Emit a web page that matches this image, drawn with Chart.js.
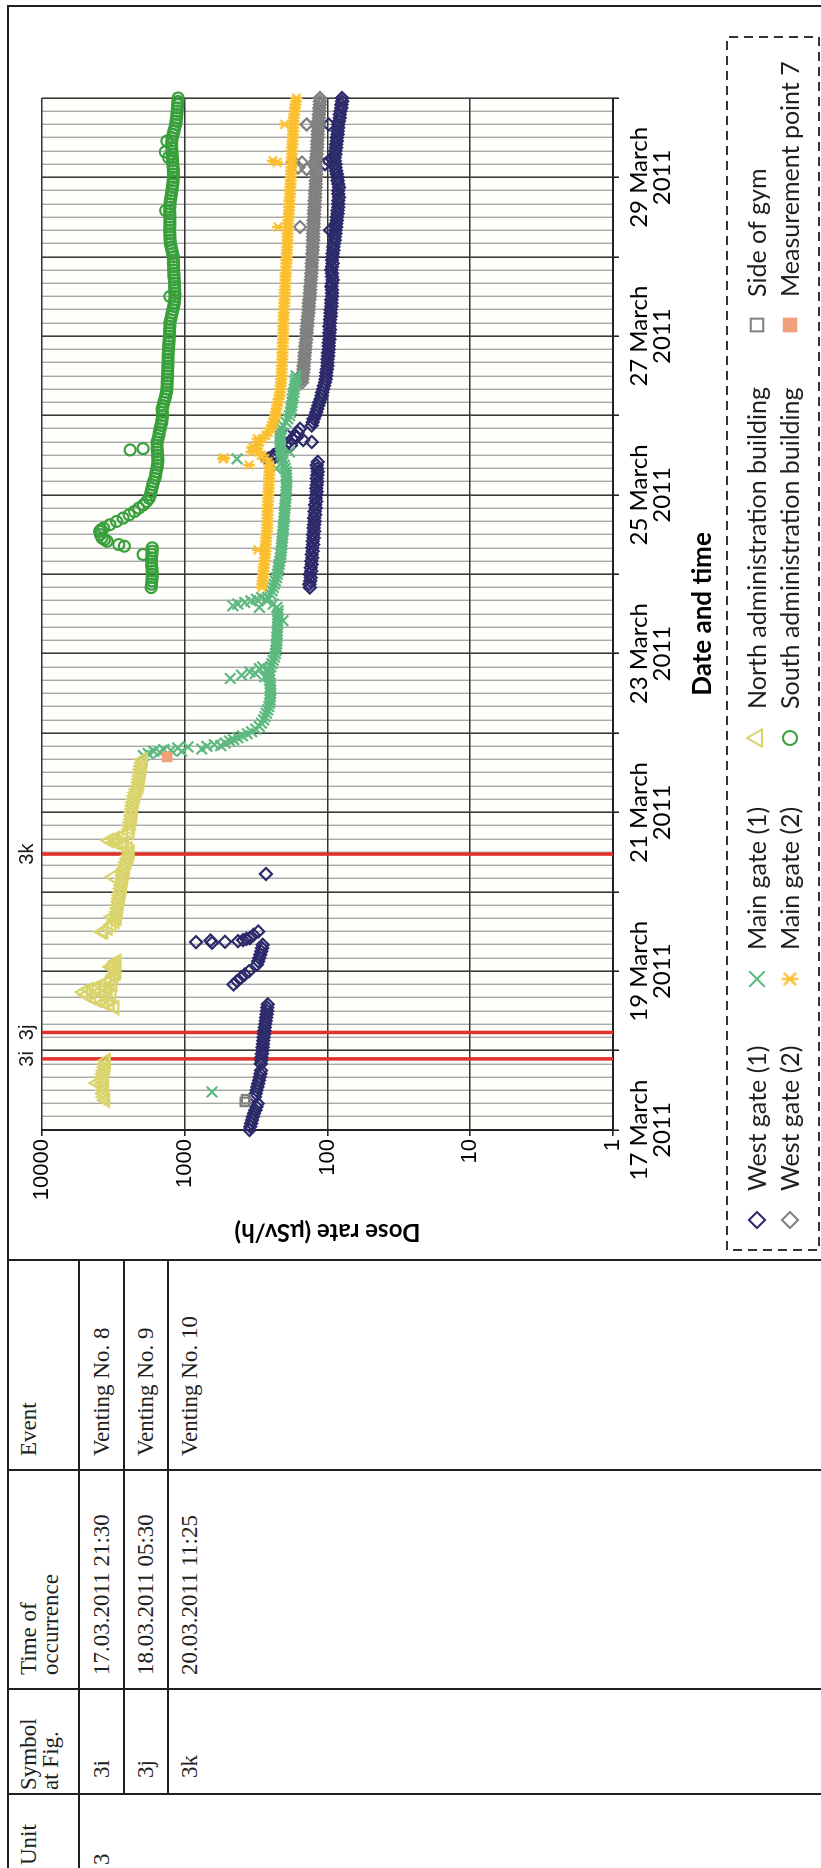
<!DOCTYPE html>
<html>
<head>
<meta charset="utf-8">
<title>Unit 3 venting events and on-site dose rates, 17–30 March 2011</title>
<script src="https://cdn.jsdelivr.net/npm/chart.js@4.4.1/dist/chart.umd.min.js"></script>
<style>
  html, body { margin: 0; padding: 0; background: #fff; }
  body { width: 821px; height: 1868px; overflow: hidden; position: relative; }
  /* the sheet is laid out in landscape and turned a quarter turn */
  #sheet {
    position: absolute; left: 0; top: 0; width: 1868px; height: 821px;
    transform-origin: 0 0; transform: translateY(1868px) rotate(-90deg);
    background: #fff; color: #231f20;
    font-family: "Liberation Serif", "Times New Roman", serif;
  }
  .rule { position: absolute; background: #231f20; }
  .txt { position: absolute; font-size: 23px; line-height: 22px; white-space: pre; }
  #chartBox { position: absolute; left: 610px; top: 10px; width: 1250px; height: 811px; }
  #doseChart { width: 1250px; height: 811px; }
</style>
</head>
<body>
<div id="sheet">
  <div id="chartBox"><canvas id="doseChart" width="1250" height="811"></canvas></div>
</div>
<script>
// ---------------- table content ----------------
const unitLabel = '3';
const tableHeaders = [['Unit'], ['Symbol', 'at Fig.'], ['Time of', 'occurrence'], ['Event']];
const eventSymbols = ['3i', '3j', '3k'];
const eventTimes = ['17.03.2011 21:30', '18.03.2011 05:30', '20.03.2011 11:25'];
const eventNames = ['Venting No. 8', 'Venting No. 9', 'Venting No. 10'];

// ---------------- chart axes ----------------
const AXIS_START_DAY = 17;            // hour 0 = 17 March 2011 00:00
const AXIS_HOURS = 312;               // to 30 March 00:00
const dateTickLabels = ['17 March', '19 March', '21 March', '23 March', '25 March', '27 March', '29 March'];
const dateTickYear = '2011';
const doseTicks = [1, 10, 100, 1000, 10000];

// ---------------- readings (hours since 17 March 00:00, µSv/h) ----------------
// runs: [first hour, dose, dose, ...] read hourly
const SAMPLE_STEP_H = 1;

const westGate1Runs = [
  [0, 352, 348, 343, 338, 333, 327, 320, 314, 308],
  [10, 322, 318, 314, 310, 306, 302, 298, 295, 292],
  [20, 293, 291, 290, 288, 286, 285, 283, 282, 280, 278, 277, 275, 273, 271, 269, 267, 265, 264, 262],
  [44, 455, 430, 405, 380, 355],
  [50, 312, 306, 301, 296, 291, 287, 284],
  [58, 350, 330, 306],
  [164, 133, 134, 132, 131, 133, 130, 131, 129, 130, 128,
        129, 127, 128, 126, 127, 125, 126, 124, 125, 124,
        123, 124, 122, 123, 121, 122, 120, 121, 120, 119,
        120, 119, 118, 119, 118, 117, 118, 119, 117],
  [203, 260, 240, 222, 208, 196, 186, 176, 168, 162, 156],
  [213, 129, 127, 125, 122, 120, 118, 116, 114, 112, 110,
        109, 107, 106, 104, 103, 102, 102, 101, 100, 100,
        100, 99, 99, 98, 98, 98, 97, 97, 97, 96,
        97, 96, 96, 95, 95, 95, 94, 94, 94, 93,
        93, 93, 94, 93, 92, 93, 93, 94, 93, 92,
        93, 92, 92, 91, 91, 90, 89, 89, 88, 88,
        87, 87, 86, 86, 85, 85, 84, 84, 84, 83,
        84, 84, 83, 84, 85, 85, 86, 87, 88, 88,
        89, 89, 88, 88, 87, 87, 86, 86, 85, 85,
        84, 84, 83, 82, 82, 81, 80, 80, 79, 79]
];
const westGate1Single = [
  [56.8, 833], [56.6, 644], [57.3, 660], [56.9, 522], [57.1, 424], [57.4, 391], [57.8, 370],
  [77.4, 270], [202.6, 263], [203.5, 233], [206, 205], [207, 180], [208, 129], [208.6, 148],
  [209.5, 164], [210, 192], [292, 104], [293, 98], [304, 98], [272, 96]
];

const westGate2Runs = [
  [226, 151, 150, 149, 148, 147, 147, 146, 145, 145, 144,
        143, 143, 142, 141, 141, 140, 140, 139, 138, 138,
        137, 136, 136, 135, 135, 134, 133, 133, 132, 132,
        131, 131, 130, 130, 129, 129, 129, 128, 128, 128,
        127, 127, 127, 126, 126, 126, 126, 125, 125, 125,
        124, 124, 124, 123, 123, 123, 122, 122, 122, 121,
        121, 121, 120, 120, 120, 121, 122, 121, 120, 119,
        119, 118, 118, 118, 117, 117, 117, 116, 116, 116,
        115, 115, 114, 114, 113, 113, 113]
];
const westGate2Single = [
  [292.7, 175], [292.5, 151], [304, 140], [273, 156], [291, 160], [290.5, 140], [226.5, 158], [228, 155]
];

const mainGate1Runs = [
  [122, 300, 290, 280, 274, 268, 263, 258, 255, 252, 251,
        250, 250, 251, 252, 255, 258, 257, 255, 250, 245,
        240, 235, 232, 230, 228, 227, 226, 226, 225, 225,
        224, 224, 223, 223, 222, 222, 226, 240, 265, 262,
        250, 245, 240, 236, 232, 228, 225, 222, 220, 218,
        216, 214, 212, 211, 210, 209, 208, 207, 206, 205,
        204, 203, 202, 201, 200, 200, 199, 198, 197, 196,
        195, 195, 194, 194, 193, 193, 194, 195, 198, 200,
        205, 207, 210, 212, 213, 214, 215, 215, 215, 214,
        210, 205, 195, 190, 185, 182, 180, 178, 177, 176,
        174, 172, 171, 169, 168, 167, 166]
];
const mainGate1Single = [
  [11.5, 644],
  [113.2, 1950], [113.8, 1800], [114.5, 1650], [114.2, 1500], [115, 1400], [114.8, 1250], [115.5, 1120],
  [114.5, 1050], [115.8, 950], [115.2, 760], [116, 700], [116.5, 620], [116.2, 560], [117, 520],
  [117.6, 485], [118, 455], [118.6, 425], [119.2, 395], [119.8, 365], [120.4, 340], [121.2, 318],
  [136.5, 480], [137.5, 400], [138.5, 350], [138, 320], [139.5, 300], [140, 285], [137, 275], [139, 265],
  [158.5, 460], [159, 424], [159.5, 380], [160, 345], [160.5, 315], [158, 300], [161, 290],
  [154, 205], [202.9, 430], [200, 230], [205, 185]
];

const mainGate2Runs = [
  [164, 288, 287, 285, 284, 282, 281, 279, 278, 277, 275,
        274, 273, 272, 271, 270, 269, 268, 266, 265, 265,
        264, 264, 263, 263, 262, 262, 261, 261, 260, 259,
        258, 258, 257, 257, 256, 255, 254, 256, 260, 275,
        290, 305, 320, 310, 300, 285, 270, 260, 250, 245,
        240, 236, 232, 230, 228, 225, 222, 220, 217, 215,
        214, 213, 212, 211, 210, 210, 209, 209, 208, 208,
        207, 207, 207, 206, 206, 205, 205, 205, 204, 204,
        204, 203, 203, 202, 202, 201, 201, 200, 200, 199,
        199, 198, 198, 197, 197, 196, 195, 195, 194, 194,
        193, 193, 192, 192, 192, 191, 191, 190, 190, 189,
        189, 188, 188, 187, 186, 186, 185, 185, 184, 183,
        183, 182, 182, 181, 181, 180, 180, 179, 179, 178,
        178, 177, 177, 177, 176, 176, 175, 175, 174, 174,
        174, 173, 172, 171, 170, 169, 168, 166, 165]
];
const mainGate2Single = [
  [202.9, 540], [203.2, 530], [205, 340], [206.5, 335], [209, 310], [201, 355],
  [175.4, 307], [304, 200], [293, 241], [292.5, 225], [273, 222]
];

const northAdminRuns = [
  [9, 3600, 3650, 3700, 3680, 3650, 3750, 3800, 3750, 3700, 3650, 3600, 3580, 3550],
  [60, 3700, 3450, 3250, 3100, 3000, 2980, 2950, 2930, 2900, 2880,
       2850, 2830, 2800, 2780, 2750, 2730, 2700, 2680, 2650, 2630,
       2600, 2550, 2500, 2460, 2420, 2500, 2650, 2900, 3100, 2700,
       2450, 2420, 2400, 2380, 2350, 2340, 2320, 2310, 2300, 2280,
       2250, 2230, 2200, 2150, 2100, 2080, 2060, 2050, 2030, 2020,
       2000, 1980, 1960]
];
const northAdminSingle = [
  [14.2, 4120],
  [37, 3100], [37.8, 3350], [38.5, 3700], [39.2, 4100], [40, 4500], [40.8, 4900], [41.7, 5150],
  [42.4, 4700], [43, 4250], [43.8, 3850], [44.5, 3500], [45.3, 3350], [39.5, 3450], [41, 3700],
  [42, 3900], [43, 3550], [40.5, 3250], [44, 3200],
  [46.5, 3150], [47.3, 3050], [48, 3000], [48.8, 3100], [49.5, 3200], [50.2, 3100], [51, 3000], [49.3, 3300],
  [59.9, 3800], [64.4, 3230], [76.5, 3183], [86.5, 2750], [87, 3100], [87.5, 3400], [88.2, 3050]
];

const southAdminRuns = [
  [164, 1720, 1710, 1700, 1695, 1690, 1695, 1700, 1705, 1710, 1705, 1700, 1695, 1690],
  [177, 2900, 3500, 3800, 3900, 3950, 3700, 3350, 3000, 2700, 2450,
        2250, 2100, 1950, 1850, 1780, 1740, 1720, 1700, 1680, 1650,
        1620, 1600, 1585, 1570, 1555, 1545, 1545, 1550, 1555, 1560,
        1565, 1560, 1540, 1520, 1505, 1490, 1470, 1450, 1440, 1430,
        1435, 1440, 1420, 1400, 1380, 1360, 1345, 1335, 1332, 1330,
        1325, 1320, 1318, 1315, 1312, 1310, 1310, 1310, 1305, 1300,
        1295, 1290, 1285, 1280, 1278, 1275, 1272, 1270, 1255, 1240,
        1225, 1210, 1195, 1185, 1178, 1170, 1172, 1175, 1178, 1180,
        1185, 1190, 1192, 1195, 1198, 1200, 1200, 1200, 1215, 1230,
        1245, 1260, 1265, 1270, 1272, 1275, 1272, 1270, 1270, 1270,
        1272, 1275, 1272, 1270, 1260, 1250, 1240, 1230, 1220, 1210,
        1205, 1200, 1200, 1200, 1205, 1210, 1215, 1220, 1225, 1230,
        1233, 1235, 1230, 1225, 1208, 1190, 1175, 1160, 1150, 1140,
        1135, 1130, 1125, 1120, 1118, 1115]
];
const southAdminSingle = [
  [176.5, 2650], [178.5, 3650], [181.5, 3850], [205.6, 2415], [206, 1960], [174, 1960],
  [299, 1335], [295.7, 1370], [252, 1270], [294, 1300], [278, 1360]
];

const sideOfGymSingle = [[8.5, 380], [9.3, 372]];
const measurementPoint7Single = [[112.8, 1330]];

// ---------------- helpers ----------------
const runPoints = runs => runs.flatMap(r => r.slice(1).map((v, i) => ({ x: r[0] + i * SAMPLE_STEP_H, y: v })));
const singlePoints = list => list.map(([x, y]) => ({ x, y }));
const eventHour = s => {
  const [d, t] = s.split(' ');
  const [dd] = d.split('.').map(Number);
  const [hh, mm] = t.split(':').map(Number);
  return (dd - AXIS_START_DAY) * 24 + hh + mm / 60;
};

// ---------------- table ----------------
const sheet = document.getElementById('sheet');
function rule(x, y, w, h) {
  const d = document.createElement('div');
  d.className = 'rule';
  Object.assign(d.style, { left: x + 'px', top: y + 'px', width: w + 'px', height: h + 'px' });
  sheet.appendChild(d);
}
const TEXT_BASELINE_OFFSET = 18.8;   // 23px serif on a 22px line
function text(str, x, baseline) {
  const d = document.createElement('div');
  d.className = 'txt';
  d.textContent = str;
  d.style.left = x + 'px';
  d.style.top = (baseline - TEXT_BASELINE_OFFSET) + 'px';
  sheet.appendChild(d);
}
const COL_RULES = [74, 179, 398, 608];
const HEAD_RULE = 79;
const ROW_RULES = [124, 168];
rule(0, 7, 1863, 2);
rule(1861, 7, 2, 814);
COL_RULES.forEach(x => rule(x - 1, 7, 2, 814));
rule(0, HEAD_RULE - 1, 609, 2);
ROW_RULES.forEach(y => rule(74, y - 1, 535, 2));

const headerX = [3, 78, 193, 412];
tableHeaders.forEach((lines, i) => text(lines.join('\n'), headerX[i], 37));
const rowBase = [110, 154, 198];
text(unitLabel, 3, rowBase[0]);
eventSymbols.forEach((s, i) => {
  text(s, 90, rowBase[i]);
  text(eventTimes[i], 193, rowBase[i]);
  text(eventNames[i], 412, rowBase[i]);
});

// ---------------- chart ----------------
function asteriskMark(color, size, lw) {
  const c = document.createElement('canvas');
  c.width = c.height = size;
  const g = c.getContext('2d');
  const m = size / 2, r = size / 2 - 1, d = r * 0.72;
  g.strokeStyle = color; g.lineWidth = lw;
  g.beginPath();
  g.moveTo(m - d, m - d); g.lineTo(m + d, m + d);
  g.moveTo(m + d, m - d); g.lineTo(m - d, m + d);
  g.moveTo(m, m - r); g.lineTo(m, m + r);
  g.stroke();
  return c;
}

const CLEAR = 'rgba(0,0,0,0)';
const seriesDefs = [
  { label: 'West gate (1)', pts: [...runPoints(westGate1Runs), ...singlePoints(westGate1Single)],
    color: '#2c2a6b', style: 'rectRot', r: 6, lr: 8, fill: false },
  { label: 'West gate (2)', pts: [...runPoints(westGate2Runs), ...singlePoints(westGate2Single)],
    color: '#808080', style: 'rectRot', r: 6, lr: 8, fill: false },
  { label: 'Main gate (1)', pts: [...runPoints(mainGate1Runs), ...singlePoints(mainGate1Single)],
    color: '#5cb97f', style: 'crossRot', r: 7.5, lr: 11, fill: false },
  { label: 'Main gate (2)', pts: [...runPoints(mainGate2Runs), ...singlePoints(mainGate2Single)],
    color: '#fbbf2e', style: asteriskMark('#fbbf2e', 14, 2.2), r: 6, lr: 9, fill: false,
    legendStyle: asteriskMark('#fbbf2e', 19, 2.2) },
  { label: 'North administration building', pts: [...runPoints(northAdminRuns), ...singlePoints(northAdminSingle)],
    color: '#d9d46b', style: 'triangle', r: 7.5, lr: 10, fill: false },
  { label: 'South administration building', pts: [...runPoints(southAdminRuns), ...singlePoints(southAdminSingle)],
    color: '#38a03a', style: 'circle', r: 5.5, lr: 7, fill: false },
  { label: 'Side of gym', pts: singlePoints(sideOfGymSingle),
    color: '#808080', style: 'rect', r: 6, lr: 9, fill: false },
  { label: 'Measurement point 7', pts: singlePoints(measurementPoint7Single),
    color: '#f2a07b', style: 'rect', r: 6, lr: 9, fill: true }
];

const datasets = seriesDefs.map((s, i) => ({
  label: s.label,
  data: s.pts,
  pointStyle: s.style,
  pointRadius: s.r,
  pointBorderColor: s.color,
  pointBackgroundColor: s.fill ? s.color : CLEAR,
  pointBorderWidth: 2.2,
  showLine: false,
  clip: false,
  order: 20 - i
}));

const eventHours = eventTimes.map(eventHour);
eventHours.forEach((h, i) => datasets.push({
  label: eventSymbols[i],
  data: [{ x: h, y: doseTicks[0] }, { x: h, y: doseTicks[doseTicks.length - 1] }],
  showLine: true,
  borderColor: '#e0322c',
  borderWidth: 3.5,
  pointRadius: 0,
  order: 50
}));

const plotFrame = {
  id: 'plotFrame',
  beforeDraw(chart) {
    const { ctx, chartArea: a } = chart;
    ctx.save();
    ctx.fillStyle = '#fefefa';
    ctx.fillRect(a.left, a.top, a.right - a.left, a.bottom - a.top);
    ctx.restore();
  },
  afterDraw(chart) {
    const { ctx } = chart;
    const xs = chart.scales.x;
    ctx.save();
    // venting symbols above the plot
    ctx.fillStyle = '#1a1a1a';
    ctx.font = '20px "Liberation Sans", Arial, sans-serif';
    ctx.textAlign = 'center';
    ctx.textBaseline = 'alphabetic';
    eventHours.forEach((h, i) => ctx.fillText(eventSymbols[i], xs.getPixelForValue(h), 23));

    // legend box
    const box = { x: 8, y: 717, w: 1213, h: 92 };
    ctx.strokeStyle = '#333';
    ctx.lineWidth = 2;
    ctx.setLineDash([9, 6]);
    ctx.strokeRect(box.x, box.y, box.w, box.h);
    ctx.setLineDash([]);
    const markX = [38, 279, 520, 933];
    const textX = [67, 308, 549, 961];
    const rowY = [747, 780];
    ctx.font = '25px Lato, "Noto Sans", sans-serif';
    ctx.textAlign = 'left';
    ctx.textBaseline = 'middle';
    seriesDefs.forEach((s, i) => {
      const col = Math.floor(i / 2), row = i % 2;
      ctx.strokeStyle = s.color;
      ctx.fillStyle = s.fill ? s.color : CLEAR;
      ctx.lineWidth = 2;
      Chart.helpers.drawPoint(ctx, {
        pointStyle: s.legendStyle || s.style, radius: s.lr, rotation: 0, borderWidth: 2
      }, markX[col], rowY[row]);
      ctx.fillStyle = '#1f1f1f';
      ctx.fillText(s.label, textX[col], rowY[row] + 1);
    });
    ctx.restore();
  }
};

const DAY = 24;
new Chart(document.getElementById('doseChart'), {
  type: 'scatter',
  data: { datasets },
  options: {
    responsive: false,
    animation: false,
    devicePixelRatio: 1,
    events: [],
    layout: { padding: { left: 0, right: 90, top: 32, bottom: 98 } },
    plugins: { legend: { display: false }, tooltip: { enabled: false } },
    scales: {
      x: {
        type: 'linear',
        min: 0,
        max: AXIS_HOURS,
        afterFit: s => { s.height = 110; },
        ticks: {
          stepSize: 4,
          autoSkip: false,
          maxRotation: 0,
          minRotation: 0,
          padding: 9,
          color: '#000',
          font: { family: 'Lato, "Noto Sans", sans-serif', size: 24, lineHeight: '23px' },
          callback: v => (v % (2 * DAY) === 0 ? [dateTickLabels[v / (2 * DAY)], dateTickYear] : '')
        },
        grid: {
          color: c => (c.tick && c.tick.value % DAY === 0 ? '#3a3a3a' : '#a8a8a8'),
          lineWidth: c => (c.tick && c.tick.value % DAY === 0 ? 1.6 : 1.4),
          tickColor: c => (c.tick && c.tick.value % DAY === 0 ? '#222' : CLEAR),
          tickLength: 6,
          tickWidth: 1.6
        },
        border: { color: '#222', width: 2 },
        title: {
          display: true,
          text: 'Date and time',
          color: '#000',
          font: { family: 'Lato, "Noto Sans", sans-serif', size: 26, weight: 'bold' },
          padding: { top: 0, bottom: 5 }
        }
      },
      y: {
        type: 'logarithmic',
        min: doseTicks[0],
        max: doseTicks[doseTicks.length - 1],
        afterFit: s => { s.width = 128; },
        afterBuildTicks: s => { s.ticks = doseTicks.map(v => ({ value: v })); },
        ticks: {
          padding: 3,
          color: '#000',
          font: { family: '"Liberation Sans", Arial, sans-serif', size: 22 },
          callback: v => String(v)
        },
        grid: { color: '#333', lineWidth: 1.6, tickColor: '#222', tickLength: 6, tickWidth: 1.6 },
        border: { color: '#222', width: 2 },
        title: {
          display: true,
          text: 'Dose rate (μSv/h)',
          color: '#000',
          font: { family: 'Lato, "Noto Sans", sans-serif', size: 24, weight: 'bold' },
          padding: { top: 12, bottom: 0 }
        }
      }
    }
  },
  plugins: [plotFrame]
});
</script>
</body>
</html>
